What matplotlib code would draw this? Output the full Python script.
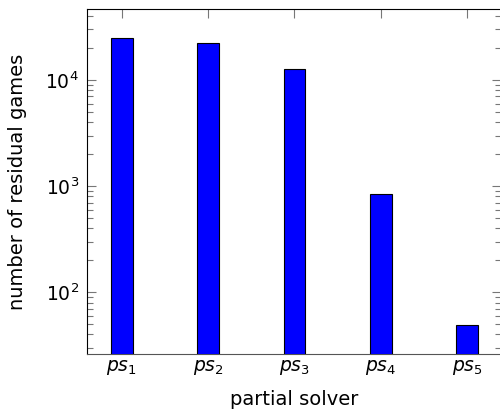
import matplotlib
matplotlib.use("Agg")
import matplotlib.pyplot as plt
from matplotlib.ticker import LogLocator, NullFormatter

# data
solvers = ["$ps_1$", "$ps_2$", "$ps_3$", "$ps_4$", "$ps_5$"]
residual = [24700, 22500, 12800, 835, 49]

plt.rcParams["font.family"] = ["DejaVu Sans"]
plt.rcParams["mathtext.fontset"] = "custom"
plt.rcParams["mathtext.rm"] = "DejaVu Sans"
plt.rcParams["mathtext.it"] = "DejaVu Sans:italic"

fig = plt.figure(figsize=(5.0, 4.12), dpi=100)
ax = fig.add_axes([87.3 / 500, 1 - 354 / 412, (500.5 - 87.3) / 500, (354 - 9.3) / 412])

pos = list(range(1, len(solvers) + 1))
ax.bar(pos, residual, width=0.25, color="#0000ff", edgecolor="black",
       linewidth=0.8, zorder=3)

ax.set_yscale("log")
ax.set_ylim(26.2, 46400)
ax.set_xlim(0.6, 5.388)
ax.set_xticks(pos)
ax.set_xticklabels(solvers, fontsize=13.5)

ax.yaxis.set_major_locator(LogLocator(base=10))
ax.yaxis.set_minor_locator(LogLocator(base=10, subs=range(2, 10)))
ax.yaxis.set_minor_formatter(NullFormatter())

ax.tick_params(axis="both", which="both", direction="in", color="#777777",
               width=0.8, labelsize=13.5)
ax.tick_params(axis="x", which="both", top=True, bottom=True, length=6.5, pad=3)
ax.tick_params(axis="y", which="both", left=True, right=True)
ax.tick_params(axis="y", which="major", length=6.5, pad=6)
ax.tick_params(axis="y", which="minor", length=4.3)

for side in ["left", "top", "right"]:
    ax.spines[side].set_color("black")
    ax.spines[side].set_linewidth(0.8)
ax.spines["bottom"].set_color("#555555")
ax.spines["bottom"].set_linewidth(0.8)

ax.set_xlabel("partial solver", fontsize=14, labelpad=9)
ax.set_ylabel("number of residual games", fontsize=14, labelpad=13)

fig.savefig("out.png", dpi=100)
